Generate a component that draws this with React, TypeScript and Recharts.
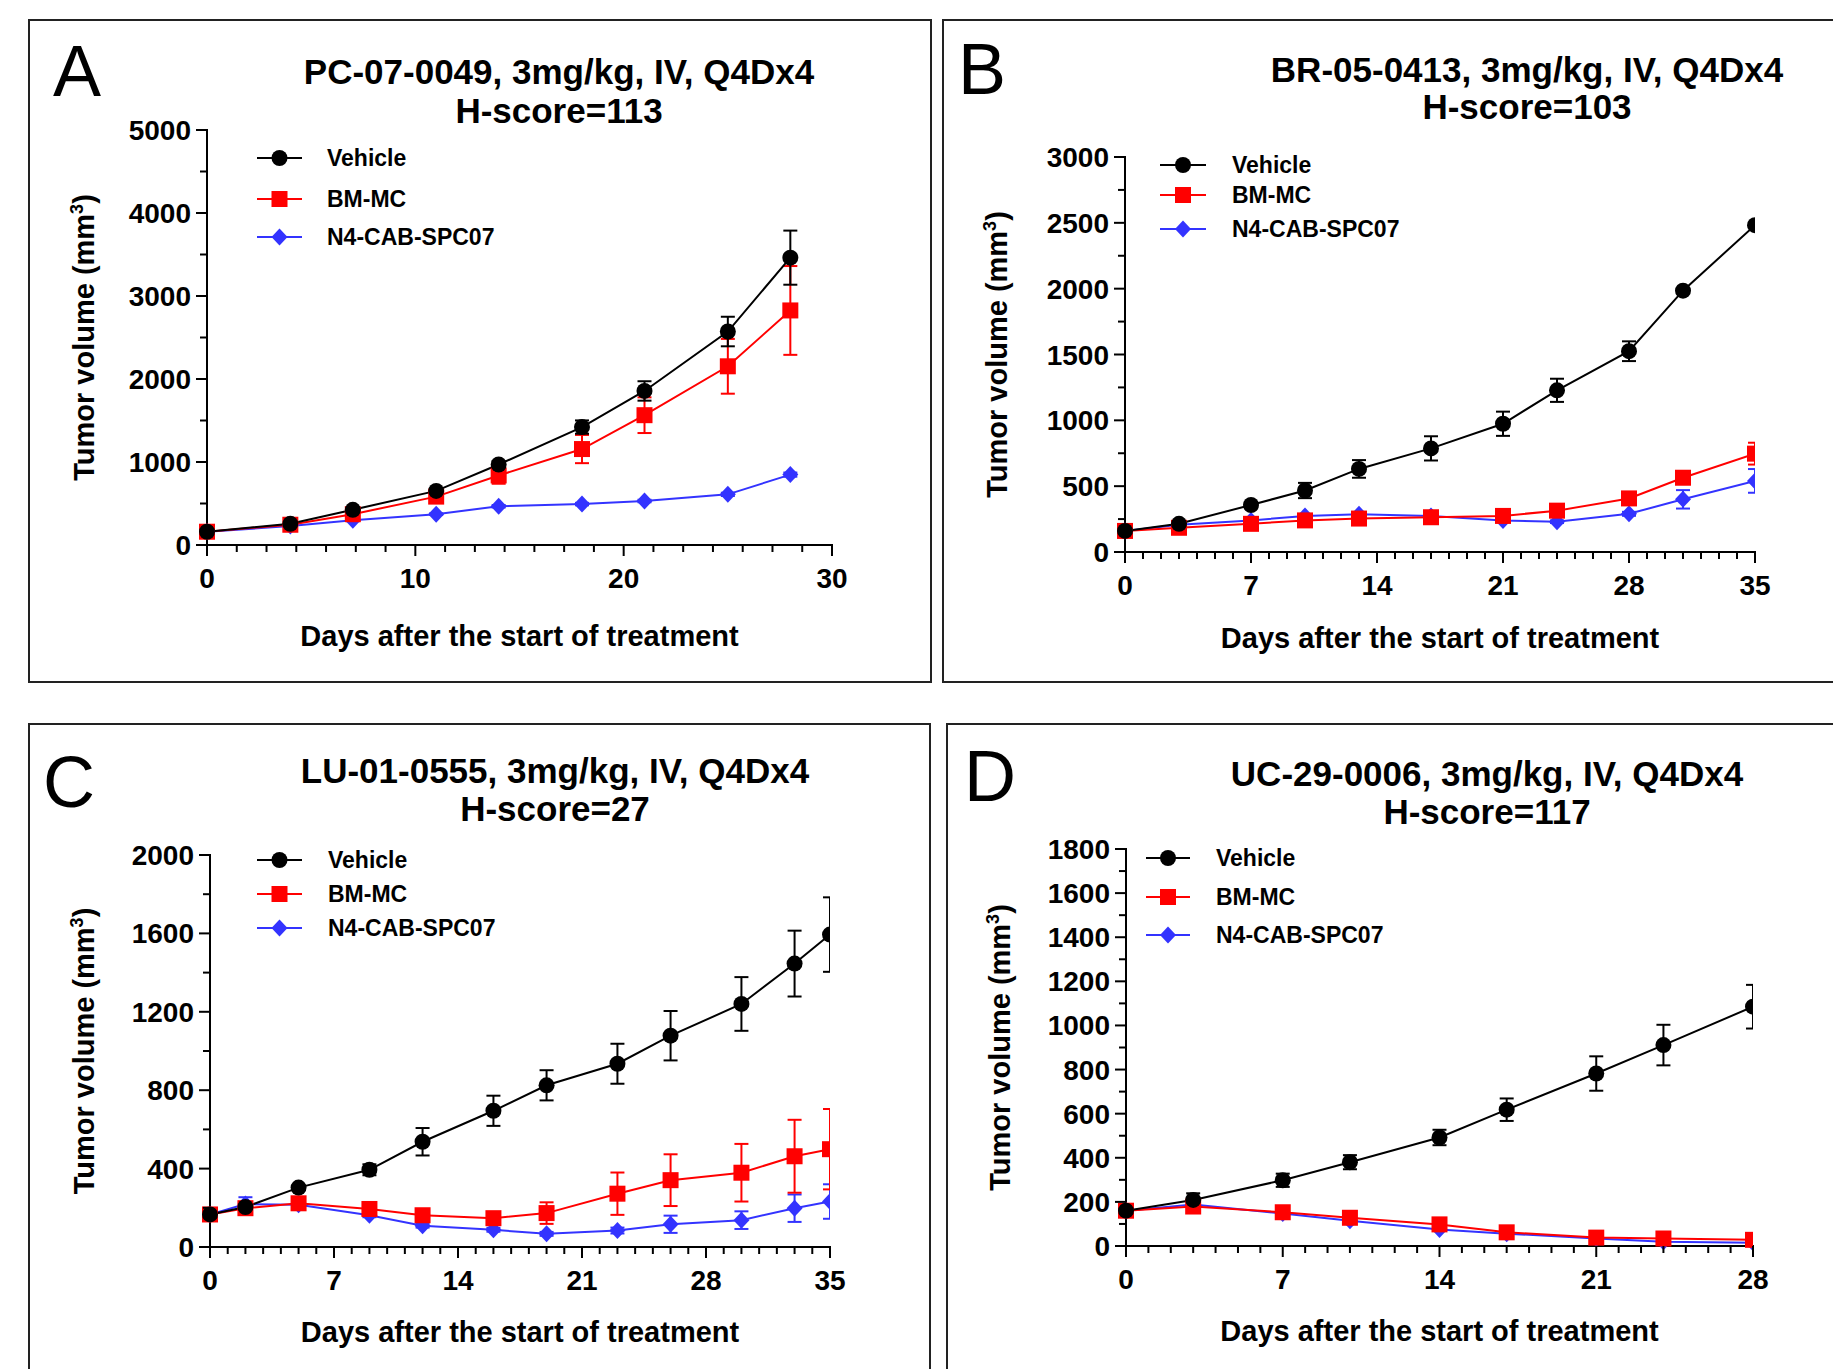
import { LineChart, Line, XAxis, YAxis, ErrorBar } from 'recharts';

const FONT = '"Liberation Sans", Arial, Helvetica, sans-serif';

const GROUPS = ['Vehicle', 'BM-MC', 'N4-CAB-SPC07'];
const COLORS = ['#000000', '#FF0000', '#3333FF'];
const SHAPES = ['circle', 'square', 'diamond'];

// A: PC-07-0049
const A_DAYS = [0, 4, 7, 11, 14, 18, 21, 25, 28];
const A_VEHICLE = [160, 255, 424, 652, 970, 1421, 1856, 2572, 3462];
const A_VEHICLE_SEM = [10, 15, 25, 25, 40, 80, 117, 178, 326];
const A_BMMC = [160, 244, 371, 583, 838, 1156, 1564, 2153, 2826];
const A_BMMC_SEM = [10, 15, 20, 30, 100, 170, 215, 330, 535];
const A_N4 = [160, 228, 297, 371, 467, 493, 530, 610, 848];
const A_N4_SEM = [5, 8, 10, 10, 15, 15, 15, 20, 25];

// B: BR-05-0413
const B_DAYS = [0, 3, 7, 10, 13, 17, 21, 24, 28, 31, 35];
const B_VEHICLE = [160, 214, 357, 467, 631, 787, 974, 1228, 1525, 1985, 2482];
const B_VEHICLE_SEM = [15, 20, 20, 58, 67, 92, 92, 88, 75, 15, 10];
const B_BMMC = [160, 184, 214, 240, 254, 264, 274, 314, 407, 564, 747];
const B_BMMC_SEM = [10, 10, 10, 10, 10, 10, 15, 15, 20, 25, 83];
const B_N4 = [160, 207, 240, 274, 287, 274, 240, 230, 290, 400, 540];
const B_N4_SEM = [10, 10, 10, 10, 10, 10, 10, 10, 15, 70, 90];

// C: LU-01-0555
const C_DAYS = [0, 2, 5, 9, 12, 16, 19, 23, 26, 30, 33, 35];
const C_VEHICLE = [166, 204, 303, 394, 537, 695, 825, 935, 1078, 1240, 1446, 1594];
const C_VEHICLE_SEM = [10, 15, 10, 28, 70, 77, 77, 102, 126, 137, 168, 190];
const C_BMMC = [166, 198, 223, 194, 162, 147, 173, 272, 341, 379, 463, 499];
const C_BMMC_SEM = [10, 15, 15, 15, 20, 20, 55, 108, 132, 147, 186, 205];
const C_N4 = [166, 219, 215, 162, 109, 88, 67, 84, 116, 137, 198, 232];
const C_N4_SEM = [10, 35, 15, 10, 10, 10, 10, 15, 44, 45, 70, 88];

// D: UC-29-0006
const D_DAYS = [0, 3, 7, 10, 14, 17, 21, 24, 28];
const D_VEHICLE = [160, 209, 298, 380, 492, 618, 782, 911, 1085];
const D_VEHICLE_SEM = [10, 30, 30, 32, 35, 51, 78, 92, 99];
const D_BMMC = [160, 179, 153, 128, 98, 62, 38, 34, 28];
const D_BMMC_SEM = [8, 8, 8, 8, 8, 8, 8, 8, 8];
const D_N4 = [160, 188, 147, 115, 75, 56, 34, 19, 15];
const D_N4_SEM = [5, 5, 5, 5, 5, 5, 5, 5, 5];

const PANELS = [
  {
    letter: 'A', letterX: 53, letterY: 96,
    title: ['PC-07-0049, 3mg/kg, IV, Q4Dx4', 'H-score=113'], titleX: 559, titleY: [84, 123],
    box: [29, 20, 904, 664], plot: { x0: 207, x1: 832, top: 130, y0: 545 },
    days: A_DAYS, values: [A_VEHICLE, A_BMMC, A_N4], errors: [A_VEHICLE_SEM, A_BMMC_SEM, A_N4_SEM],
    xMax: 30, xMajor: 10, xSub: 7, yMax: 5000, yMajor: 1000, ySub: 2,
    legend: { x0: 257, x1: 302, tx: 327, rows: [158, 199, 237] },
    xTitleY: 646, yTitleX: 84,
  },
  {
    letter: 'B', letterX: 958, letterY: 94,
    title: ['BR-05-0413, 3mg/kg, IV, Q4Dx4', 'H-score=103'], titleX: 1527, titleY: [82, 119],
    box: [943, 20, 910, 664], plot: { x0: 1125, x1: 1755, top: 157, y0: 552 },
    days: B_DAYS, values: [B_VEHICLE, B_BMMC, B_N4], errors: [B_VEHICLE_SEM, B_BMMC_SEM, B_N4_SEM],
    xMax: 35, xMajor: 7, xSub: 7, yMax: 3000, yMajor: 500, ySub: 2,
    legend: { x0: 1160, x1: 1206, tx: 1232, rows: [165, 195, 229] },
    xTitleY: 648, yTitleX: 997,
  },
  {
    letter: 'C', letterX: 43, letterY: 807,
    title: ['LU-01-0555, 3mg/kg, IV, Q4Dx4', 'H-score=27'], titleX: 555, titleY: [783, 821],
    box: [29, 724, 903, 670], plot: { x0: 210, x1: 830, top: 855, y0: 1247 },
    days: C_DAYS, values: [C_VEHICLE, C_BMMC, C_N4], errors: [C_VEHICLE_SEM, C_BMMC_SEM, C_N4_SEM],
    xMax: 35, xMajor: 7, xSub: 7, yMax: 2000, yMajor: 400, ySub: 2,
    legend: { x0: 257, x1: 302, tx: 328, rows: [860, 894, 928] },
    xTitleY: 1342, yTitleX: 84,
  },
  {
    letter: 'D', letterX: 964, letterY: 801,
    title: ['UC-29-0006, 3mg/kg, IV, Q4Dx4', 'H-score=117'], titleX: 1487, titleY: [786, 824],
    box: [947, 724, 906, 670], plot: { x0: 1126, x1: 1753, top: 849, y0: 1246 },
    days: D_DAYS, values: [D_VEHICLE, D_BMMC, D_N4], errors: [D_VEHICLE_SEM, D_BMMC_SEM, D_N4_SEM],
    xMax: 28, xMajor: 7, xSub: 7, yMax: 1800, yMajor: 200, ySub: 2,
    legend: { x0: 1146, x1: 1190, tx: 1216, rows: [858, 897, 935] },
    xTitleY: 1341, yTitleX: 1000,
  },
];

const Y_AXIS_W = 100;
const X_AXIS_H = 60;

function makeTicks(max: number, major: number, sub: number) {
  const step = major / sub;
  const n = Math.round(max / step);
  return Array.from({ length: n + 1 }, (_, i) => i * step);
}

const isMajor = (v: number, major: number) => Math.abs(v / major - Math.round(v / major)) < 1e-6;

function Marker({ shape, cx, cy, color }: any) {
  if (shape === 'circle') return <circle cx={cx} cy={cy} r={8} fill={color} />;
  if (shape === 'square') return <rect x={cx - 8} y={cy - 8} width={16} height={16} fill={color} />;
  return <path d={`M${cx},${cy - 8.5}L${cx + 8},${cy}L${cx},${cy + 8.5}L${cx - 8},${cy}Z`} fill={color} />;
}

function Panel({ p }: any) {
  const [bl, bt, bw, bh] = p.box;
  const rows = p.days.map((d: number, i: number) => {
    const r: any = { day: d };
    p.values.forEach((vals: number[], k: number) => {
      r[`v${k}`] = vals[i];
      r[`e${k}`] = p.errors[k][i];
    });
    return r;
  });
  const margin = {
    left: p.plot.x0 - bl - Y_AXIS_W,
    right: bl + bw - p.plot.x1,
    top: p.plot.top - bt,
    bottom: bt + bh - p.plot.y0 - X_AXIS_H,
  };
  const xTicks = makeTicks(p.xMax, p.xMajor, p.xSub);
  const yTicks = makeTicks(p.yMax, p.yMajor, p.ySub);

  const xTick = (t: any) => {
    const major = isMajor(t.payload.value, p.xMajor);
    return (
      <g key={`x${t.index}`}>
        <line x1={t.x} x2={t.x} y1={t.y} y2={t.y + (major ? 11 : 7)} stroke="#000" strokeWidth={2} />
        {major && (
          <text x={t.x} y={t.y + 43} textAnchor="middle" fontSize={28} fontWeight="bold" fontFamily={FONT} fill="#000">
            {Math.round(t.payload.value)}
          </text>
        )}
      </g>
    );
  };
  const yTick = (t: any) => {
    const major = isMajor(t.payload.value, p.yMajor);
    return (
      <g key={`y${t.index}`}>
        <line x1={t.x - (major ? 11 : 7)} x2={t.x} y1={t.y} y2={t.y} stroke="#000" strokeWidth={2} />
        {major && (
          <text x={t.x - 16} y={t.y + 10} textAnchor="end" fontSize={28} fontWeight="bold" fontFamily={FONT} fill="#000">
            {t.payload.value}
          </text>
        )}
      </g>
    );
  };
  const axisLine = { stroke: '#000', strokeWidth: 2, strokeLinecap: 'square' as const };
  const cx = (p.plot.x0 + p.plot.x1) / 2;
  const cy = (p.plot.top + p.plot.y0) / 2;
  // marks are cut at the right end of the x axis only, as in the source figure
  const clipId = `mclip-${p.letter}`;

  return (
    <>
      <div
        style={{
          position: 'absolute', left: bl - 1, top: bt - 1, width: bw, height: bh,
          border: '2px solid #222', boxSizing: 'border-box',
        }}
      />
      <style>
        {`#panel-${p.letter} .recharts-errorBars, #panel-${p.letter} .recharts-line-dots { clip-path: url(#${clipId}); }`}
      </style>
      <div id={`panel-${p.letter}`} style={{ position: 'absolute', left: bl, top: bt }}>
        <LineChart width={bw} height={bh} data={rows} margin={margin}>
          <XAxis
            type="number" dataKey="day" domain={[0, p.xMax]} ticks={xTicks} interval={0}
            allowDataOverflow height={X_AXIS_H} tickSize={0} tickMargin={0} tickLine={false}
            axisLine={axisLine} tick={xTick}
          />
          <YAxis
            type="number" domain={[0, p.yMax]} ticks={yTicks} interval={0}
            allowDataOverflow width={Y_AXIS_W} tickSize={0} tickMargin={0} tickLine={false}
            axisLine={axisLine} tick={yTick}
          />
          {[2, 1, 0].map((k) => (
            <Line
              key={k} type="linear" dataKey={`v${k}`} stroke={COLORS[k]} strokeWidth={2}
              dot={(d: any) => <Marker key={`d${k}-${d.index}`} shape={SHAPES[k]} cx={d.cx} cy={d.cy} color={COLORS[k]} />}
              activeDot={false} isAnimationActive={false}
            >
              <ErrorBar dataKey={`e${k}`} width={7} strokeWidth={2} stroke={COLORS[k]} direction="y" isAnimationActive={false} />
            </Line>
          ))}
        </LineChart>
      </div>
      <svg
        width={1833} height={1369}
        style={{ position: 'absolute', left: 0, top: 0, pointerEvents: 'none' }}
        fontFamily={FONT}
      >
        <defs>
          <clipPath id={clipId} clipPathUnits="userSpaceOnUse">
            <rect
              x={p.plot.x0 - bl - 30} y={p.plot.top - bt - 60}
              width={p.plot.x1 - p.plot.x0 + 30} height={p.plot.y0 - p.plot.top + 120}
            />
          </clipPath>
        </defs>
        <text x={p.letterX} y={p.letterY} fontSize={72} fill="#000">{p.letter}</text>
        {p.title.map((s: string, i: number) => (
          <text key={i} x={p.titleX} y={p.titleY[i]} textAnchor="middle" fontSize={35} fontWeight="bold" fill="#000">
            {s}
          </text>
        ))}
        {GROUPS.map((g, k) => {
          const ry = p.legend.rows[k];
          return (
            <g key={g}>
              <line x1={p.legend.x0} x2={p.legend.x1} y1={ry} y2={ry} stroke={COLORS[k]} strokeWidth={2} />
              <Marker shape={SHAPES[k]} cx={(p.legend.x0 + p.legend.x1) / 2} cy={ry} color={COLORS[k]} />
              <text x={p.legend.tx} y={ry + 8} fontSize={23} fontWeight="bold" fill="#000">{g}</text>
            </g>
          );
        })}
        <text x={cx} y={p.xTitleY} textAnchor="middle" fontSize={29} fontWeight="bold" fill="#000">
          Days after the start of treatment
        </text>
        <text
          transform={`translate(${p.yTitleX + 10},${cy}) rotate(-90)`}
          textAnchor="middle" fontSize={29} fontWeight="bold" fill="#000"
        >
          Tumor volume (mm<tspan dy={-11} fontSize={18}>3</tspan><tspan dy={11}>)</tspan>
        </text>
      </svg>
    </>
  );
}

export default function App() {
  return (
    <div
      style={{
        position: 'absolute', left: 0, top: 0, width: 1833, height: 1369,
        overflow: 'hidden', background: '#fff', fontFamily: FONT,
      }}
    >
      {PANELS.map((p) => (
        <Panel key={p.letter} p={p} />
      ))}
    </div>
  );
}
